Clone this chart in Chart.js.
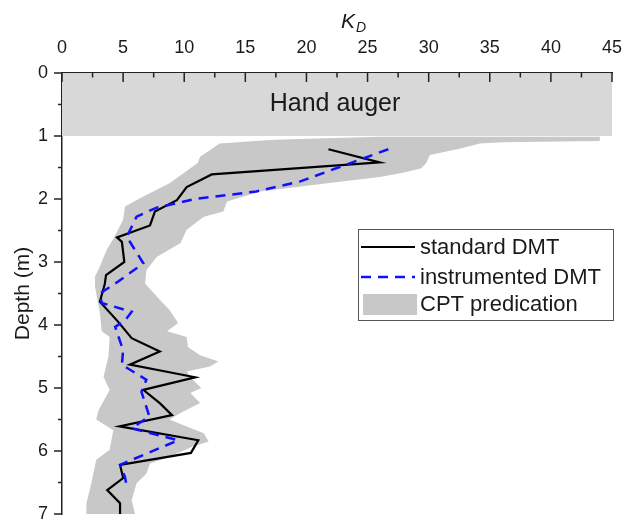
<!DOCTYPE html>
<html><head><meta charset="utf-8">
<script src="https://cdn.jsdelivr.net/npm/chart.js@4/dist/chart.umd.min.js"></script>
<style>html,body{margin:0;padding:0;background:#fff}#wrap{width:624px;height:520px;position:relative}</style>
</head><body><div id="wrap"><canvas id="c" width="624" height="520"></canvas></div>
<script>
// ---- data ----
const xTitleMain = 'K';
const xTitleSub = 'D';
const yTitle = 'Depth (m)';
const handLabel = 'Hand auger';
const seriesNames = ['standard DMT', 'instrumented DMT', 'CPT predication'];

const standardK     = [21.8, 26.0, 12.25, 10.2, 9.4, 7.6, 7.2, 4.5, 4.9, 5.1, 3.6, 3.5, 3.1, 4.6, 5.7, 8.0, 5.55, 10.9, 6.65, 8.0, 9.0, 4.7, 11.15, 10.55, 4.75, 5.0, 3.7, 4.75, 4.75];
const standardDepth = [1.21, 1.42, 1.61, 1.81, 2.02, 2.2, 2.42, 2.61, 2.68, 3.0, 3.21, 3.35, 3.63, 3.95, 4.21, 4.42, 4.63, 4.83, 5.03, 5.24, 5.43, 5.61, 5.83, 6.03, 6.22, 6.43, 6.62, 6.83, 7.05];

const instrK     = [26.7, 19.5, 15.9, 10.9, 7.7, 6.1, 5.3, 6.65, 4.6, 3.1, 3.25, 5.7, 5.15, 4.35, 5.0, 4.9, 6.9, 6.5, 7.15, 5.7, 9.5, 4.75, 5.15, 5.3];
const instrDepth = [1.21, 1.72, 1.88, 2.0, 2.14, 2.28, 2.6, 3.02, 3.31, 3.5, 3.65, 3.79, 3.93, 4.03, 4.4, 4.63, 4.87, 5.06, 5.45, 5.64, 5.83, 6.22, 6.41, 6.57];

const cptLeftK     = [26, 17.3, 12.9, 11.3, 11.1, 8.8, 6.65, 5.15, 5.0, 4.3, 3.65, 3.1, 2.7, 2.7, 3.1, 3.25, 3.9, 3.8, 3.4, 3.9, 3.0, 2.8, 4.2, 3.9, 2.8, 2.4, 2.0, 2.0];
const cptLeftDepth = [1.01, 1.06, 1.12, 1.33, 1.43, 1.75, 1.96, 2.12, 2.33, 2.6, 2.81, 3.07, 3.23, 3.39, 3.81, 4.1, 4.19, 4.5, 4.82, 5.03, 5.35, 5.5, 5.67, 5.98, 6.14, 6.51, 6.83, 7.1];
const cptRightK     = [44, 44, 36, 34.2, 32.6, 30.1, 29.8, 29.4, 28, 26, 21.7, 16.2, 13.5, 13.2, 11.6, 10.2, 9.7, 7.75, 6.9, 6.8, 8.0, 8.8, 9.5, 8.6, 10.2, 10.3, 11.3, 12.8, 12.1, 10.2, 10.7, 11.4, 10.5, 11.3, 9.65, 8.8, 10.2, 11.6, 12.0, 10.7, 8.8, 7.2, 6.9, 6.1, 5.7, 6.1];
const cptRightDepth = [1.01, 1.08, 1.1, 1.12, 1.2, 1.3, 1.43, 1.51, 1.58, 1.65, 1.75, 1.88, 2.04, 2.2, 2.28, 2.49, 2.7, 2.92, 3.13, 3.34, 3.6, 3.76, 3.97, 4.1, 4.19, 4.35, 4.48, 4.58, 4.66, 4.74, 4.87, 5.0, 5.08, 5.24, 5.4, 5.5, 5.61, 5.72, 5.85, 5.93, 6.09, 6.2, 6.36, 6.51, 6.78, 7.1];

const handK = [0, 45, 45, 0];
const handDepth = [0, 0, 1, 1];

const xMin = 0, xMax = 45, xStep = 5;
const yMin = 0, yMax = 7, yStep = 1;

// ---- build points ----
const pts = (xs, ys) => xs.map((v, i) => ({x: v, y: ys[i]}));
const cptPoly = pts(cptLeftK, cptLeftDepth).concat(pts(cptRightK, cptRightDepth).reverse());

const FONT = '"Liberation Sans", Arial, sans-serif';
const TXT = '#1a1a1a';
const AX = '#222';

const decor = {
  id: 'decor',
  afterDatasetsDraw(chart) {
    const {ctx, chartArea: a, scales: {x, y}} = chart;
    ctx.save();
    ctx.fillStyle = TXT;
    ctx.font = '25px ' + FONT;
    ctx.textAlign = 'center';
    ctx.textBaseline = 'middle';
    ctx.fillText(handLabel, x.getPixelForValue((xMin + xMax) / 2) - 2, y.getPixelForValue(0.5));

    ctx.strokeStyle = AX;
    ctx.lineWidth = 1.5;
    ctx.beginPath();
    for (let i = 0; i <= (xMax - xMin) / (xStep / 2); i++) {
      const v = xMin + i * xStep / 2;
      const px = x.getPixelForValue(v);
      const len = i % 2 === 0 ? 9 : 4.5;
      ctx.moveTo(px, a.top);
      ctx.lineTo(px, a.top + len);
    }
    for (let i = 0; i <= (yMax - yMin) / (yStep / 2); i++) {
      const v = yMin + i * yStep / 2;
      const py = y.getPixelForValue(v);
      const len = i % 2 === 0 ? 8 : 4;
      ctx.moveTo(a.left, py);
      ctx.lineTo(a.left - len, py);
    }
    ctx.stroke();
    ctx.restore();
  },
  afterDraw(chart) {
    const {ctx, scales: {x}} = chart;
    ctx.save();
    const cx = x.getPixelForValue((xMin + xMax) / 2);
    ctx.fillStyle = TXT;
    ctx.textBaseline = 'alphabetic';
    ctx.textAlign = 'left';
    ctx.font = 'italic 21px ' + FONT;
    const wK = ctx.measureText(xTitleMain).width;
    ctx.font = 'italic 14px ' + FONT;
    const wD = ctx.measureText(xTitleSub).width;
    const start = cx + 16 - (wK + wD) / 2;
    ctx.font = 'italic 21px ' + FONT;
    ctx.fillText(xTitleMain, start, 28);
    ctx.font = 'italic 14px ' + FONT;
    ctx.fillText(xTitleSub, start + wK + 1, 32);

    const ds = chart.data.datasets;
    const bx = 358.5, by = 229.5, bw = 255, bh = 91;
    ctx.fillStyle = '#fff';
    ctx.fillRect(bx, by, bw, bh);
    ctx.strokeStyle = '#555';
    ctx.lineWidth = 1;
    ctx.strokeRect(bx, by, bw, bh);
    ctx.font = '22px ' + FONT;
    ctx.textBaseline = 'middle';
    const rows = [247, 277, 304];
    ctx.strokeStyle = ds[0].borderColor; ctx.lineWidth = ds[0].borderWidth; ctx.setLineDash([]);
    ctx.beginPath(); ctx.moveTo(361, rows[0]); ctx.lineTo(415, rows[0]); ctx.stroke();
    ctx.strokeStyle = ds[1].borderColor; ctx.lineWidth = ds[1].borderWidth; ctx.setLineDash(ds[1].borderDash);
    ctx.beginPath(); ctx.moveTo(361, rows[1]); ctx.lineTo(415, rows[1]); ctx.stroke();
    ctx.setLineDash([]);
    ctx.fillStyle = ds[2].backgroundColor;
    ctx.fillRect(363, rows[2] - 10, 54, 21);
    ctx.fillStyle = TXT;
    seriesNames.forEach((n, i) => ctx.fillText(n, 420, rows[i] + 1));
    ctx.restore();
  }
};

new Chart(document.getElementById('c'), {
  type: 'scatter',
  data: {
    datasets: [
      {label: seriesNames[0], data: pts(standardK, standardDepth), showLine: true, borderColor: '#000', borderWidth: 2.2, pointRadius: 0, fill: false, order: 2},
      {label: seriesNames[1], data: pts(instrK, instrDepth), showLine: true, borderColor: '#1010ff', borderWidth: 2.5, borderDash: [10, 7], pointRadius: 0, fill: false, order: 1},
      {label: seriesNames[2], data: cptPoly, showLine: true, borderWidth: 0, borderColor: 'rgba(0,0,0,0)', backgroundColor: '#c8c8c8', pointRadius: 0, fill: 'shape', order: 3},
      {label: handLabel, data: pts(handK, handDepth), showLine: true, borderWidth: 0, borderColor: 'rgba(0,0,0,0)', backgroundColor: '#d8d8d8', pointRadius: 0, fill: 'shape', order: 4}
    ]
  },
  options: {
    responsive: false,
    devicePixelRatio: 1,
    animation: false,
    layout: {padding: {top: 0, left: 0, right: 12, bottom: 6}},
    plugins: {legend: {display: false}, tooltip: {enabled: false}},
    scales: {
      x: {
        type: 'linear', position: 'top', min: xMin, max: xMax,
        ticks: {stepSize: xStep, color: TXT, font: {family: FONT, size: 18}, padding: 14, maxRotation: 0},
        grid: {display: false, drawTicks: false},
        border: {display: true, color: AX, width: 1.5},
        afterFit: s => { s.height = 73; s.paddingLeft = 0; s.paddingRight = 0; }
      },
      y: {
        type: 'linear', reverse: true, min: yMin, max: yMax,
        ticks: {stepSize: yStep, color: TXT, font: {family: FONT, size: 18}, padding: 14},
        grid: {display: false, drawTicks: false},
        border: {display: true, color: AX, width: 1.5},
        title: {display: true, text: yTitle, color: TXT, font: {family: FONT, size: 21}, padding: {top: 11, bottom: 0}},
        afterFit: s => { s.width = 62; s.paddingTop = 0; s.paddingBottom = 0; }
      }
    }
  },
  plugins: [decor]
});
</script>
</body></html>
